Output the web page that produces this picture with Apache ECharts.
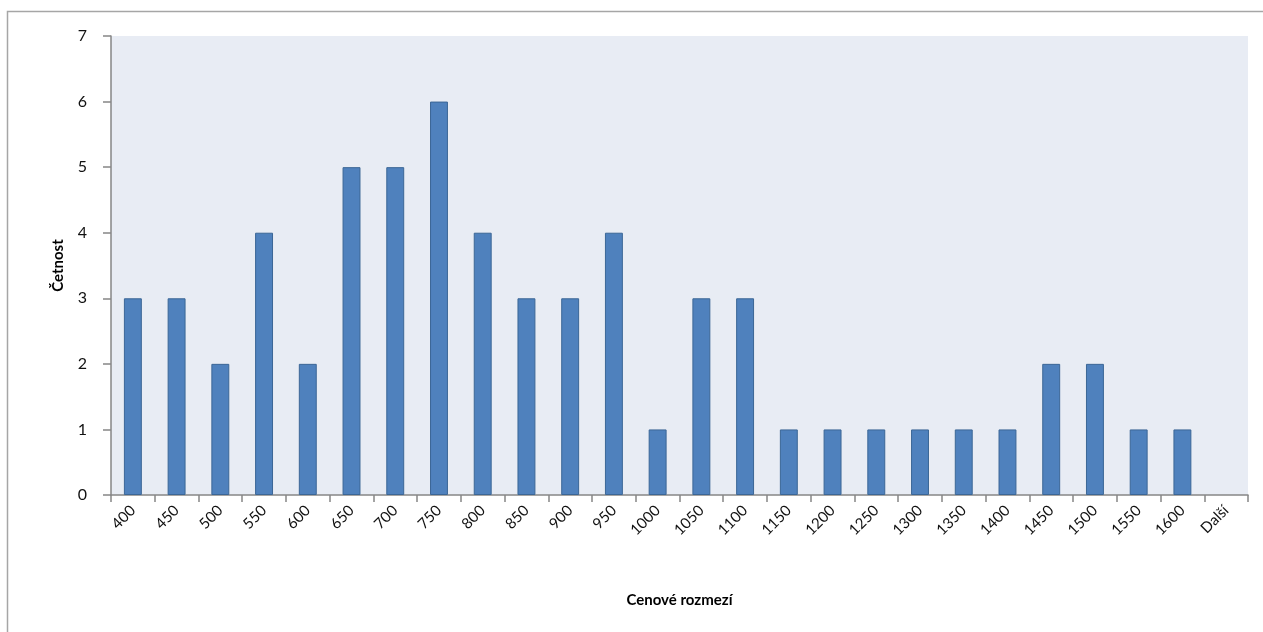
<!DOCTYPE html>
<html>
<head>
<meta charset="utf-8">
<script src="https://cdn.jsdelivr.net/npm/echarts@6/dist/echarts.min.js"></script>
<style>
  html, body { margin: 0; padding: 0; background: #ffffff; }
  #chart { width: 1263px; height: 632px; }
</style>
</head>
<body>
<div id="chart"></div>
<script>
// Price range bins (upper bounds) and the frequency of items in each bin
const categories = ['400', '450', '500', '550', '600', '650', '700', '750', '800', '850',
  '900', '950', '1000', '1050', '1100', '1150', '1200', '1250', '1300', '1350',
  '1400', '1450', '1500', '1550', '1600', 'Další'];
const counts = [3, 3, 2, 4, 2, 5, 5, 6, 4, 3, 3, 4, 1, 3, 3, 1, 1, 1, 1, 1, 1, 2, 2, 1, 1, 0];
const yTicks = { min: 0, max: 7, interval: 1 };

const FONT = 'Lato, "Open Sans", sans-serif';
const AXIS_GREY = '#868686';

const chart = echarts.init(document.getElementById('chart'), null, { renderer: 'canvas' });

// empty bins get no outline, so nothing is drawn on the axis for them
const barData = counts.map(v => (v === 0 ? { value: v, itemStyle: { borderWidth: 0 } } : v));

chart.setOption({
  animation: false,
  backgroundColor: '#ffffff',
  graphic: [{
    type: 'rect',
    shape: { x: 7.5, y: 11.5, width: 1270, height: 640 },
    style: { fill: 'none', stroke: '#a6a6a6', lineWidth: 1.5 },
    silent: true,
    z: -1
  }],
  grid: {
    left: 111, right: 15, top: 36, bottom: 137,
    show: true,
    backgroundColor: '#e8ecf4',
    borderWidth: 0
  },
  xAxis: {
    type: 'category',
    data: categories,
    name: 'Cenové rozmezí',
    nameLocation: 'middle',
    nameGap: 98,
    nameTextStyle: { fontFamily: FONT, fontSize: 15, fontWeight: 'bold', color: '#000' },
    axisLine: { lineStyle: { color: AXIS_GREY, width: 1.5 } },
    axisTick: { show: true, alignWithLabel: false, length: 7, lineStyle: { color: AXIS_GREY, width: 1.5 } },
    axisLabel: {
      rotate: 45,
      interval: 0,
      margin: 13,
      fontFamily: FONT,
      fontSize: 15,
      color: '#111'
    },
    splitLine: { show: false }
  },
  yAxis: {
    type: 'value',
    min: yTicks.min,
    max: yTicks.max,
    interval: yTicks.interval,
    name: 'Četnost',
    nameLocation: 'middle',
    nameGap: 45,
    nameRotate: 90,
    nameTextStyle: { fontFamily: FONT, fontSize: 15, fontWeight: 'bold', color: '#000' },
    axisLine: { show: true, lineStyle: { color: AXIS_GREY, width: 1.5 } },
    axisTick: { show: true, length: 8, lineStyle: { color: AXIS_GREY, width: 1.5 } },
    axisLabel: { fontFamily: FONT, fontSize: 16, color: '#111', margin: 24 },
    splitLine: { show: false }
  },
  series: [{
    type: 'bar',
    data: barData,
    barWidth: '41%',
    itemStyle: {
      color: '#4f81bd',
      borderColor: '#3b6696',
      borderWidth: 1
    }
  }]
});
</script>
</body>
</html>
